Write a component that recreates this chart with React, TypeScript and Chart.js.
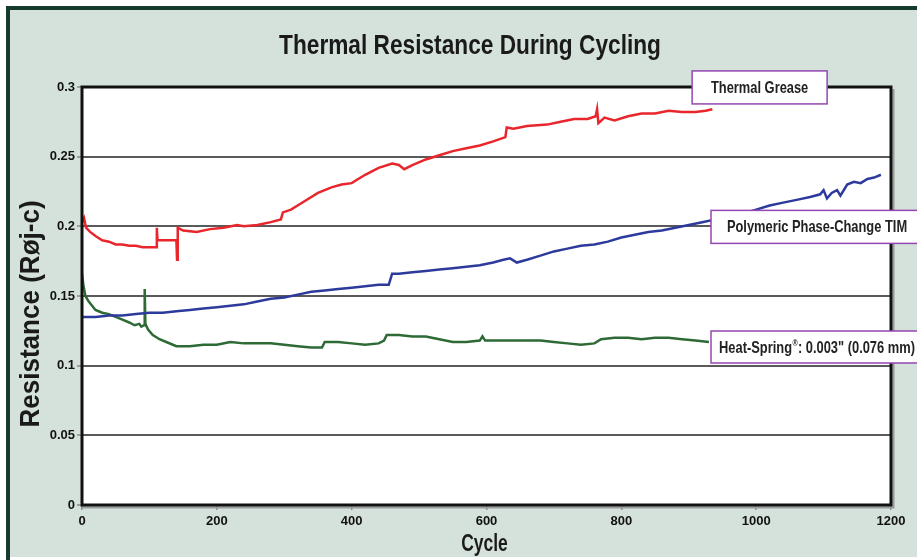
import React, { useEffect, useRef } from "react";
import { Chart, registerables } from "chart.js";

Chart.register(...registerables);

const TITLE = "Thermal Resistance During Cycling";
const X_TITLE = "Cycle";
const Y_TITLE = "Resistance (Røj-c)";

const X_TICKS = [0, 200, 400, 600, 800, 1000, 1200];
const Y_TICKS = [0, 0.05, 0.1, 0.15, 0.2, 0.25, 0.3];
const Y_TICK_LABELS = ["0", "0.05", "0.1", "0.15", "0.2", "0.25", "0.3"];

const SERIES_NAMES = [
  "Thermal Grease",
  "Polymeric Phase-Change TIM",
  "Heat-Spring®: 0.003\" (0.076 mm)",
];

const greaseCycles = [
  0, 3, 6, 12, 20, 30, 40, 50, 60, 70, 80, 90, 100, 110, 111, 112, 125, 140, 141, 142,
  150, 170, 190, 210, 230, 240, 260, 280, 295, 298, 310, 330, 350, 370, 385, 400, 420,
  440, 460, 470, 478, 490, 510, 530, 550, 570, 590, 610, 628, 630, 640, 660, 690, 710,
  730, 750, 762, 764, 766, 775, 790, 810, 830, 850, 870, 890, 910, 925, 935,
];
const greaseValues = [
  0.203, 0.206, 0.199, 0.196, 0.193, 0.19, 0.189, 0.187, 0.187, 0.186, 0.186, 0.185,
  0.185, 0.185, 0.199, 0.19, 0.19, 0.19, 0.176, 0.199, 0.197, 0.196, 0.198, 0.199,
  0.201, 0.2, 0.201, 0.203, 0.205, 0.21, 0.212, 0.218, 0.224, 0.228, 0.23, 0.231, 0.237,
  0.242, 0.245, 0.244, 0.241, 0.244, 0.248, 0.251, 0.254, 0.256, 0.258, 0.261, 0.264,
  0.271, 0.27, 0.272, 0.273, 0.275, 0.277, 0.277, 0.279, 0.284, 0.274, 0.278, 0.276,
  0.279, 0.281, 0.281, 0.283, 0.282, 0.282, 0.283, 0.284,
];

const pcmCycles = [
  0, 20, 40, 60, 80, 100, 120, 140, 160, 180, 200, 220, 240, 260, 280, 300, 320, 340,
  360, 380, 400, 420, 440, 455, 460, 470, 490, 510, 530, 550, 570, 590, 610, 625, 635,
  645, 660, 680, 700, 720, 740, 760, 780, 800, 820, 840, 860, 880, 900, 920, 940, 960,
  980, 1000, 1020, 1040, 1060, 1080, 1095, 1100, 1105, 1112, 1120, 1125, 1135, 1145,
  1155, 1165, 1175, 1185,
];
const pcmValues = [
  0.135, 0.135, 0.136, 0.136, 0.137, 0.138, 0.138, 0.139, 0.14, 0.141, 0.142, 0.143,
  0.144, 0.146, 0.148, 0.149, 0.151, 0.153, 0.154, 0.155, 0.156, 0.157, 0.158, 0.158,
  0.166, 0.166, 0.167, 0.168, 0.169, 0.17, 0.171, 0.172, 0.174, 0.176, 0.177, 0.174,
  0.176, 0.179, 0.182, 0.184, 0.186, 0.187, 0.189, 0.192, 0.194, 0.196, 0.197, 0.199,
  0.201, 0.203, 0.205, 0.207, 0.209, 0.212, 0.215, 0.217, 0.219, 0.221, 0.223, 0.226,
  0.22, 0.224, 0.226, 0.222, 0.23, 0.232, 0.231, 0.234, 0.235, 0.237,
];

const springCycles = [
  0, 2, 5, 10, 15, 20, 30, 40, 50, 60, 70, 78, 85, 88, 92, 93, 94, 98, 105, 115, 125,
  140, 160, 180, 200, 220, 240, 260, 280, 300, 320, 340, 356, 360, 380, 400, 420, 440,
  448, 452, 470, 490, 510, 530, 550, 570, 590, 594, 598, 620, 650, 680, 700, 720, 740,
  760, 770, 790, 810, 830, 850, 870, 890, 910, 930,
];
const springValues = [
  0.166, 0.158, 0.15, 0.146, 0.143, 0.14, 0.138, 0.137, 0.135, 0.133, 0.131, 0.129,
  0.13, 0.128, 0.129, 0.155, 0.13, 0.126, 0.122, 0.119, 0.117, 0.114, 0.114, 0.115,
  0.115, 0.117, 0.116, 0.116, 0.116, 0.115, 0.114, 0.113, 0.113, 0.117, 0.117, 0.116,
  0.115, 0.116, 0.118, 0.122, 0.122, 0.121, 0.121, 0.119, 0.117, 0.117, 0.118, 0.121,
  0.118, 0.118, 0.118, 0.118, 0.117, 0.116, 0.115, 0.116, 0.119, 0.12, 0.12, 0.119,
  0.12, 0.12, 0.119, 0.118, 0.117,
];

const SANS = '"Liberation Sans", Arial, Helvetica, sans-serif';

const toPoints = (xs: number[], ys: number[]) => xs.map((x, i) => ({ x, y: ys[i] }));

// label boxes anchored in data space: left cycle, center value, box width/height in px
const BOXES = [
  { text: SERIES_NAMES[0], cycle: 905, value: 0.2997, w: 135, h: 33 },
  { text: SERIES_NAMES[1], cycle: 933, value: 0.1996, w: 212, h: 33 },
  { text: SERIES_NAMES[2], cycle: 933, value: 0.1134, w: 212, h: 32 },
];

// draw bold condensed text centered at (cx, cy), optional rotation; "®" drawn as superscript
function drawCondensed(
  ctx: CanvasRenderingContext2D,
  text: string,
  cx: number,
  cy: number,
  size: number,
  condense: number,
  rotation = 0
) {
  const big = `bold ${size}px ${SANS}`;
  const small = `bold ${Math.round(size * 0.55)}px ${SANS}`;
  const parts = text.split("®");
  const widths: number[] = [];
  let total = 0;
  parts.forEach((p, i) => {
    ctx.font = big;
    const w = ctx.measureText(p).width;
    widths.push(w);
    total += w;
    if (i < parts.length - 1) {
      ctx.font = small;
      total += ctx.measureText("®").width + 1;
    }
  });
  ctx.save();
  ctx.translate(cx, cy);
  ctx.rotate(rotation);
  ctx.scale(condense, 1);
  ctx.textBaseline = "middle";
  ctx.textAlign = "left";
  let x = -total / 2;
  parts.forEach((p, i) => {
    ctx.font = big;
    ctx.fillText(p, x, 0);
    x += widths[i];
    if (i < parts.length - 1) {
      ctx.font = small;
      ctx.fillText("®", x + 0.5, -size * 0.3);
      x += ctx.measureText("®").width + 1;
    }
  });
  ctx.restore();
}

const decorPlugin = {
  id: "decor",
  beforeDraw(chart: any) {
    const { ctx, width, height, chartArea: a } = chart;
    ctx.save();
    ctx.fillStyle = "#ffffff";
    ctx.fillRect(0, 0, width, height);
    ctx.fillStyle = "#d5e2db";
    ctx.fillRect(6, 6, width - 6, height - 9);
    ctx.fillStyle = "#163a2b";
    ctx.fillRect(6, 6, width - 6, 4);
    ctx.fillRect(6, 6, 4, height - 6);
    ctx.fillStyle = "#ffffff";
    ctx.fillRect(a.left, a.top, a.right - a.left, a.bottom - a.top);
    ctx.restore();
  },
  afterDatasetsDraw(chart: any) {
    const { ctx, chartArea: a } = chart;
    ctx.save();
    ctx.strokeStyle = "#9a9a9a";
    ctx.lineWidth = 2;
    ctx.beginPath();
    ctx.moveTo(a.right + 2.5, a.top + 2);
    ctx.lineTo(a.right + 2.5, a.bottom + 2.5);
    ctx.lineTo(a.left, a.bottom + 2.5);
    ctx.stroke();
    ctx.strokeStyle = "#111111";
    ctx.lineWidth = 3;
    ctx.strokeRect(a.left, a.top, a.right - a.left, a.bottom - a.top);
    ctx.restore();
  },
  afterDraw(chart: any) {
    const { ctx, chartArea: a, scales } = chart;
    ctx.save();
    ctx.fillStyle = "#1a1a1a";
    drawCondensed(ctx, TITLE, 470, 46, 28, 0.81);
    drawCondensed(ctx, X_TITLE, (a.left + a.right) / 2 - 2, 545, 23, 0.76);
    drawCondensed(ctx, Y_TITLE, 31, 314, 28, 0.93, -Math.PI / 2);

    BOXES.forEach((b) => {
      const left = scales.x.getPixelForValue(b.cycle);
      const cy = scales.y.getPixelForValue(b.value);
      const top = cy - b.h / 2;
      ctx.fillStyle = "#ffffff";
      ctx.fillRect(left, top, b.w, b.h);
      ctx.strokeStyle = "#9447b0";
      ctx.lineWidth = 1.5;
      ctx.strokeRect(left, top, b.w, b.h);
      ctx.fillStyle = "#222222";
      drawCondensed(ctx, b.text, left + b.w / 2, cy + 1, 16.5, 0.78);
    });
    ctx.restore();
  },
};

export default function App() {
  const ref = useRef<HTMLCanvasElement | null>(null);
  useEffect(() => {
    if (!ref.current) return;
    const chart = new Chart(ref.current, {
      type: "line",
      data: {
        datasets: [
          {
            label: SERIES_NAMES[0],
            data: toPoints(greaseCycles, greaseValues),
            borderColor: "#e8262c",
            borderWidth: 2.5,
            pointRadius: 0,
            tension: 0,
          },
          {
            label: SERIES_NAMES[1],
            data: toPoints(pcmCycles, pcmValues),
            borderColor: "#2c3a9c",
            borderWidth: 2.5,
            pointRadius: 0,
            tension: 0,
          },
          {
            label: SERIES_NAMES[2],
            data: toPoints(springCycles, springValues),
            borderColor: "#2d6a35",
            borderWidth: 2.5,
            pointRadius: 0,
            tension: 0,
          },
        ],
      },
      options: {
        animation: false,
        responsive: false,
        devicePixelRatio: 1,
        events: [],
        layout: { padding: { top: 87, right: 26, left: 0, bottom: 0 } },
        plugins: { legend: { display: false }, tooltip: { enabled: false }, title: { display: false } },
        scales: {
          x: {
            type: "linear",
            min: X_TICKS[0],
            max: X_TICKS[X_TICKS.length - 1],
            afterBuildTicks: (s: any) => {
              s.ticks = X_TICKS.map((v) => ({ value: v }));
            },
            afterFit: (s: any) => {
              s.height = 55;
            },
            grid: { drawOnChartArea: false, drawTicks: true, tickLength: 5, color: "#8a8a8a", lineWidth: 1.5 },
            border: { display: false },
            ticks: {
              color: "#111",
              padding: 4,
              maxRotation: 0,
              font: { family: SANS, size: 13, weight: "bold" },
              callback: (v: any) => String(v),
            },
          },
          y: {
            type: "linear",
            min: Y_TICKS[0],
            max: Y_TICKS[Y_TICKS.length - 1],
            afterBuildTicks: (s: any) => {
              s.ticks = Y_TICKS.map((v) => ({ value: v }));
            },
            afterFit: (s: any) => {
              s.width = 82;
            },
            grid: { color: "#5a5a5a", lineWidth: 2, tickLength: 5, tickColor: "#8a8a8a", tickWidth: 1.5 },
            border: { display: false },
            ticks: {
              color: "#111",
              padding: 2,
              font: { family: SANS, size: 13, weight: "bold" },
              callback: (v: any) => {
                const i = Y_TICKS.findIndex((t) => Math.abs(t - Number(v)) < 1e-9);
                return i >= 0 ? Y_TICK_LABELS[i] : "";
              },
            },
          },
        },
      },
      plugins: [decorPlugin],
    } as any);
    return () => chart.destroy();
  }, []);
  return (
    <div style={{ position: "absolute", left: 0, top: 0, width: 917, height: 560 }}>
      <canvas ref={ref} width={917} height={560} style={{ width: 917, height: 560, display: "block" }} />
    </div>
  );
}
